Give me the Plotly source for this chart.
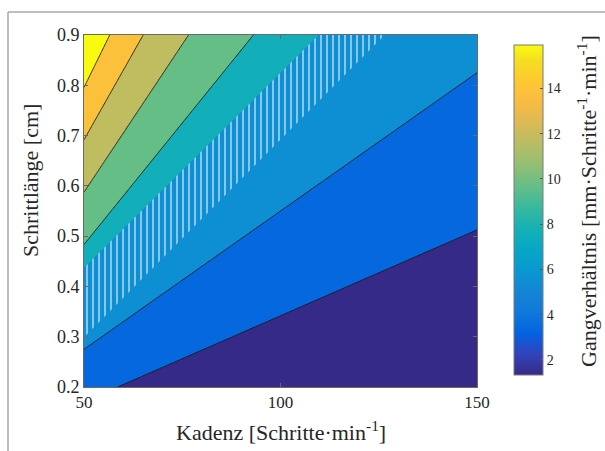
import numpy as np
import plotly.graph_objects as go

# --- data -------------------------------------------------------------
# cadence [steps/min] and step length [m] grid
kadenz = np.linspace(50, 150, 201)
schrittlaenge = np.linspace(0.2, 0.9, 141)
# walk ratio = step length [mm] / cadence
gangverhaeltnis = schrittlaenge[:, None] * 1000.0 / kadenz[None, :]

# hatched reference band (corner points: cadence, step length)
band_kadenz = [50, 50, 109.7, 126.5]
band_laenge = [0.299, 0.437, 0.9, 0.9]

cbar_ticks = [2, 4, 6, 8, 10, 12, 14]
x_ticks = [50, 100, 150]
y_ticks = [0.2, 0.3, 0.4, 0.5, 0.6, 0.7, 0.8, 0.9]

# --- parula colour map ------------------------------------------------
PARULA = [
    (0.2081, 0.1663, 0.5292), (0.1959, 0.2645, 0.7279), (0.0117, 0.3875, 0.8820),
    (0.0629, 0.4737, 0.8554), (0.0793, 0.5200, 0.8312), (0.0343, 0.5966, 0.8199),
    (0.0228, 0.6535, 0.7768), (0.0843, 0.6928, 0.7062), (0.2178, 0.7250, 0.6193),
    (0.3953, 0.7459, 0.5244), (0.5709, 0.7485, 0.4494), (0.7184, 0.7411, 0.3905),
    (0.8507, 0.7299, 0.3360), (0.9739, 0.7314, 0.2666), (0.9955, 0.7861, 0.1967),
    (0.9626, 0.8705, 0.1309), (0.9763, 0.9831, 0.0538),
]
PARULA_POS = [0, 4, 8, 12, 16, 20, 24, 28, 32, 36, 40, 44, 48, 52, 56, 60, 63]


def parula(f):
    t = np.clip(f, 0, 1) * 63
    pos = np.array(PARULA_POS, float)
    rgb = [np.interp(t, pos, [c[i] for c in PARULA]) for i in range(3)]
    return "rgb({},{},{})".format(*[int(round(255 * v)) for v in rgb])


parula_scale = [[p / 63, parula(p / 63)] for p in PARULA_POS]

# --- contour levels (8 equal intervals over the data range) -----------
zmin, zmax = float(gangverhaeltnis.min()), float(gangverhaeltnis.max())
step = (zmax - zmin) / 8
levels = [zmin + step * k for k in range(1, 8)]
clim = (zmin, levels[-1])

# each band takes the colour of its lower bound
band_lower = [zmin] + levels
band_colors = [parula((v - clim[0]) / (clim[1] - clim[0])) for v in band_lower]
nc = len(levels)
edges = [k / nc for k in range(nc)] + [0.964, 1.0]
fill_scale = []
for k, col in enumerate(band_colors):
    fill_scale.append([edges[k], col])
    fill_scale.append([edges[k + 1], col])

FONT = "Liberation Serif, Times New Roman, serif"
TXT = "#262626"

fig = go.Figure()

fig.add_trace(go.Contour(
    x=kadenz, y=schrittlaenge, z=gangverhaeltnis,
    autocontour=False,
    contours=dict(start=levels[0], end=levels[-1], size=step, coloring="fill"),
    colorscale=fill_scale, showscale=False,
    line=dict(color="#1a1a1a", width=0.9),
    hoverinfo="skip",
))

# hatched band
fig.add_trace(go.Scatter(
    x=band_kadenz, y=band_laenge, mode="lines", fill="toself",
    line=dict(width=0, color="rgba(0,0,0,0)"),
    fillpattern=dict(shape="|", fgcolor="#ffffff", bgcolor=band_colors[2],
                     size=6, solidity=1 / 3),
    hoverinfo="skip", showlegend=False,
))

# continuous colour bar
fig.add_trace(go.Scatter(
    x=[kadenz[0]], y=[schrittlaenge[0]], mode="markers",
    marker=dict(size=1, opacity=0, color=[zmin], colorscale=parula_scale,
                cmin=clim[0], cmax=clim[1], showscale=True,
                colorbar=dict(
                    thickness=29, thicknessmode="pixels",
                    len=350 / 352, lenmode="fraction",
                    x=(504 - 84) / 393, xanchor="left",
                    y=(387 - 210) / 352, yanchor="middle",
                    outlinecolor="#7a7a7a", outlinewidth=1,
                    tickvals=cbar_ticks, ticks="inside", ticklen=3,
                    tickcolor="#555", tickfont=dict(family=FONT, size=14, color=TXT),
                )),
    hoverinfo="skip", showlegend=False,
))

axis_common = dict(
    showline=True, linecolor="#6a6a6a", linewidth=1, mirror="ticks",
    ticks="inside", ticklen=4, tickcolor="#6a6a6a",
    showgrid=False, zeroline=False,
)

fig.update_layout(
    width=605, height=451,
    margin=dict(l=84, r=128, t=35, b=64),
    paper_bgcolor="white", plot_bgcolor="white",
    font=dict(family=FONT, size=17, color=TXT),
    showlegend=False,
    xaxis=dict(range=[50, 150], tickvals=x_ticks,
               tickfont=dict(family=FONT, size=17, color=TXT), **axis_common),
    yaxis=dict(range=[0.2, 0.9], tickvals=y_ticks, tickformat=".1f",
               tickfont=dict(family=FONT, size=18, color=TXT), **axis_common),
    annotations=[
        dict(text="Kadenz [Schritte·min<sup>-1</sup>]", xref="paper", yref="paper",
             x=0.5, y=(387 - 431) / 352, xanchor="center", yanchor="middle",
             showarrow=False, font=dict(family=FONT, size=22, color=TXT)),
        dict(text="Schrittlänge [cm]", xref="paper", yref="paper",
             x=(30 - 84) / 393, y=(387 - 181) / 352, xanchor="center", yanchor="middle",
             textangle=-90, showarrow=False, font=dict(family=FONT, size=22, color=TXT)),
        dict(text="Gangverhältnis [mm·Schritte<sup>-1</sup>·min<sup>-1</sup>]",
             xref="paper", yref="paper",
             x=(587 - 84) / 393, y=(387 - 201) / 352, xanchor="center", yanchor="middle",
             textangle=-90, showarrow=False, font=dict(family=FONT, size=22, color=TXT)),
    ],
    shapes=[
        dict(type="line", xref="paper", yref="paper",
             x0=(8 - 84) / 393, x1=(605 - 84) / 393, y0=(387 - 12) / 352, y1=(387 - 12) / 352,
             line=dict(color="#a8a8a8", width=1.5)),
        dict(type="line", xref="paper", yref="paper",
             x0=(8 - 84) / 393, x1=(8 - 84) / 393, y0=(387 - 12) / 352, y1=(387 - 451) / 352,
             line=dict(color="#a8a8a8", width=1.5)),
    ],
)

fig.write_html("out.html")
